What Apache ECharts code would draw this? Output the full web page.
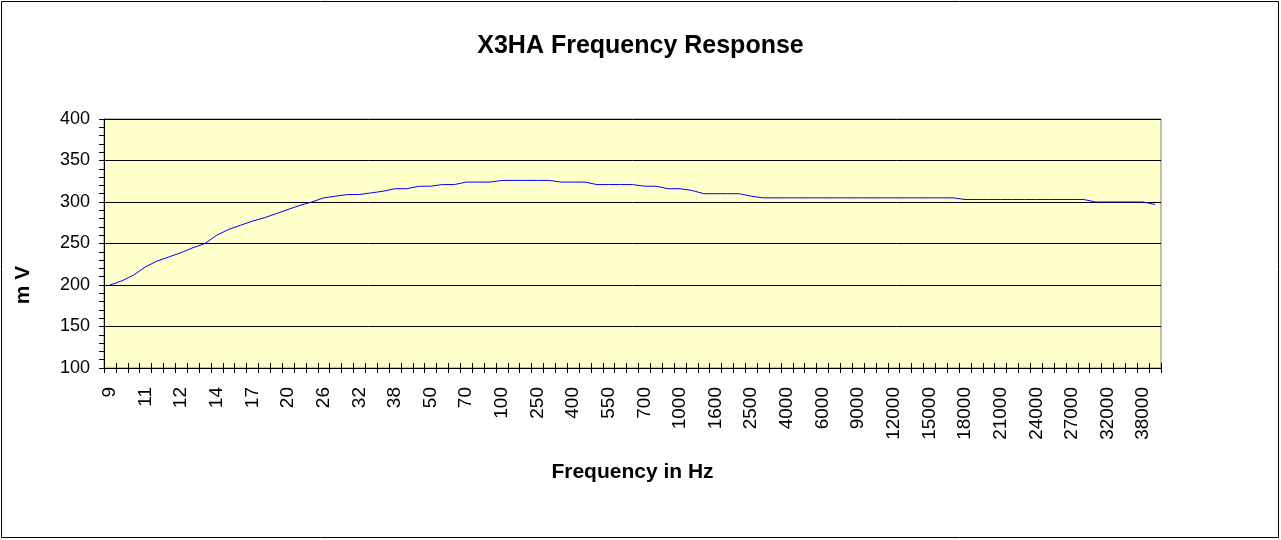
<!DOCTYPE html>
<html>
<head>
<meta charset="utf-8">
<title>X3HA Frequency Response</title>
<script src="https://cdn.jsdelivr.net/npm/echarts@6/dist/echarts.min.js"></script>
<style>
  html, body {
    margin: 0;
    padding: 0;
    background: #fff;
  }
  #chart {
    width: 1281px;
    height: 540px;
  }
</style>
</head>
<body>
<div id="chart"></div>
<script>
// frequency points (Hz), one per category
var freqs = [
  '9', '10', '10.5', '11', '11.3', '11.6', '12', '12.5', '13', '14',
  '15', '16', '17', '18', '19', '20', '22', '24', '26', '28',
  '30', '32', '34', '36', '38', '42', '46', '50', '55', '60',
  '70', '80', '90', '100', '150', '200', '250', '300', '350', '400',
  '450', '500', '550', '600', '650', '700', '800', '900', '1000', '1200',
  '1400', '1600', '1900', '2200', '2500', '3000', '3500', '4000', '4500', '5000',
  '6000', '7000', '8000', '9000', '10000', '11000', '12000', '13000', '14000', '15000',
  '16000', '17000', '18000', '19000', '20000', '21000', '22000', '23000', '24000', '25000',
  '26000', '27000', '28000', '30000', '32000', '34000', '36000', '38000', '40000'
];

// measured output in mV
var millivolts = [
  200, 205, 212, 222, 229, 234, 239, 245, 250, 260,
  267, 272, 277, 281, 286, 291, 296, 300, 305, 307,
  309, 309, 311, 313, 316, 316, 319, 319, 321, 321,
  324, 324, 324, 326, 326, 326, 326, 326, 324, 324,
  324, 321, 321, 321, 321, 319, 319, 316, 316, 314,
  310, 310, 310, 310, 307, 305, 305, 305, 305, 305,
  305, 305, 305, 305, 305, 305, 305, 305, 305, 305,
  305, 305, 303, 303, 303, 303, 303, 303, 303, 303,
  303, 303, 303, 300, 300, 300, 300, 300, 297
];

var chart = echarts.init(document.getElementById('chart'));

var font = 'Liberation Sans, Arial, sans-serif';

var option = {
  backgroundColor: '#fff',
  animation: false,
  title: {
    text: 'X3HA Frequency Response',
    left: 'center',
    top: 29,
    textStyle: {
      fontFamily: font,
      fontSize: 25,
      fontWeight: 'bold',
      color: '#000'
    }
  },
  grid: {
    left: 104,
    top: 119,
    right: 120,
    bottom: 172,
    show: true,
    backgroundColor: '#FFFFCC',
    borderColor: '#808080',
    borderWidth: 1
  },
  xAxis: [
    {
      type: 'category',
      data: freqs,
      boundaryGap: true,
      name: 'Frequency in Hz',
      nameLocation: 'middle',
      nameGap: 94,
      nameTextStyle: {
        fontFamily: font,
        fontSize: 21,
        fontWeight: 'bold',
        color: '#000'
      },
      axisLine: {lineStyle: {color: '#000', width: 1}},
      axisTick: {
        show: true,
        interval: 0,
        length: 5,
        lineStyle: {color: '#000'}
      },
      axisLabel: {
        interval: 2,
        rotate: 90,
        margin: 19,
        fontFamily: font,
        fontSize: 19,
        color: '#000'
      },
      splitLine: {show: false}
    },
    {
      // second copy only for the inner half of the crossing ticks
      type: 'category',
      data: freqs,
      position: 'bottom',
      boundaryGap: true,
      axisLine: {show: false},
      axisTick: {
        show: true,
        inside: true,
        interval: 0,
        length: 5,
        lineStyle: {color: '#000'}
      },
      axisLabel: {show: false},
      splitLine: {show: false}
    }
  ],
  yAxis: {
    type: 'value',
    min: 100,
    max: 400,
    interval: 50,
    axisLine: {show: true, lineStyle: {color: '#000', width: 1}},
    axisTick: {show: true, length: 5, lineStyle: {color: '#000'}},
    minorTick: {show: true, splitNumber: 5, length: 5, lineStyle: {color: '#000'}},
    axisLabel: {
      margin: 14,
      fontFamily: font,
      fontSize: 18,
      color: '#000'
    },
    splitLine: {show: true, lineStyle: {color: '#000', width: 1}}
  },
  graphic: [
    {
      // chart area frame
      type: 'rect',
      shape: {x: 1.5, y: 1.5, width: 1277, height: 536},
      style: {fill: null, stroke: '#000', lineWidth: 1},
      silent: true
    },
    {
      type: 'text',
      x: 23,
      y: 285,
      rotation: Math.PI / 2,
      style: {
        text: 'm V',
        fontFamily: font,
        fontSize: 21,
        fontWeight: 'bold',
        fill: '#000',
        align: 'center',
        verticalAlign: 'middle'
      }
    }
  ],
  series: [
    {
      name: 'mV',
      type: 'line',
      data: millivolts,
      showSymbol: false,
      symbol: 'none',
      lineStyle: {color: '#0000FF', width: 1},
      itemStyle: {color: '#0000FF'}
    }
  ]
};

chart.setOption(option);
</script>
</body>
</html>
